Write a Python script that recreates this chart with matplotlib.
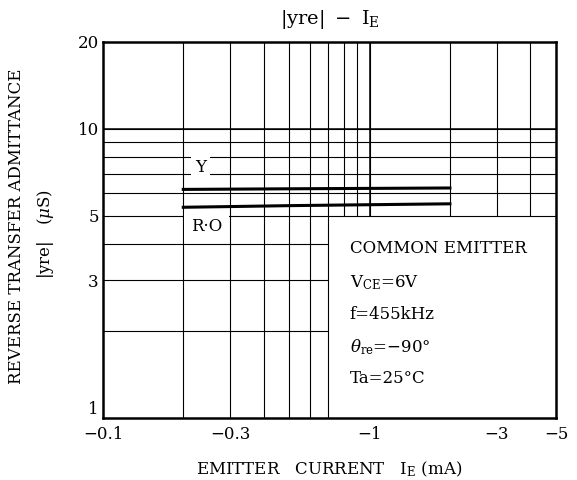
import numpy as np
import matplotlib
matplotlib.use('Agg')
import matplotlib.pyplot as plt

plt.rcParams['font.family'] = 'DejaVu Serif'
plt.rcParams['mathtext.fontset'] = 'dejavuserif'

# data (|IE| in mA, |yre| in uS)
ie_y = [0.2, 0.5, 1.0, 2.0]
yre_y = [6.18, 6.21, 6.23, 6.25]
ie_ro = [0.2, 0.3, 0.5, 1.0, 2.0]
yre_ro = [5.36, 5.39, 5.43, 5.47, 5.51]

x_ticks = [0.1, 0.3, 1, 3, 5]
x_labels = ['\u22120.1', '\u22120.3', '\u22121', '\u22123', '\u22125']
y_ticks = [1, 3, 5, 10, 20]
y_labels = ['1', '3', '5', '10', '20']

# grid lines of the chart paper
v_full = [0.2, 0.3, 0.4, 0.5, 0.6, 0.7]
v_upper = [0.8, 0.9, 1, 2, 3, 4]
h_full = [5, 6, 7, 8, 9, 10]
h_left = [2, 3, 4]

fig = plt.figure(figsize=(5.77, 4.8), dpi=100)
ax = fig.add_axes([103/577, 1-418/480, 453/577, 376/480])
ax.set_xscale('log')
ax.set_yscale('log')
ax.set_xlim(0.1, 5)
ax.set_ylim(1, 20)

gl = dict(color='black', lw=0.8, zorder=1)
ax.vlines(v_full, 1, 20, **gl)
ax.vlines(v_upper, 5, 20, **gl)
ax.hlines(h_full, 0.1, 5, **gl)
ax.hlines(h_left, 0.1, 0.7, **gl)
ax.vlines([1], 5, 20, color='black', lw=1.1, zorder=1)
ax.hlines([10], 0.1, 5, color='black', lw=1.1, zorder=1)

ax.plot(ie_y, yre_y, color='black', lw=2.2, zorder=4)
ax.plot(ie_ro, yre_ro, color='black', lw=2.2, zorder=4)

ax.text(0.232, 7.35, 'Y', fontsize=12, ha='center', va='center', zorder=3,
        bbox=dict(fc='white', ec='none', pad=3))
ax.text(0.245, 4.6, 'R\u00b7O', fontsize=12, ha='center', va='center', zorder=3,
        bbox=dict(fc='white', ec='none', pad=5))

for sp in ax.spines.values():
    sp.set_linewidth(1.8)

ax.set_xticks(x_ticks)
ax.set_xticklabels(x_labels, fontsize=12)
ax.set_yticks(y_ticks)
ax.set_yticklabels(y_labels, fontsize=12)
ax.minorticks_off()
ax.tick_params(length=0, pad=3)
ax.tick_params(axis='x', pad=6)
ax.get_yticklabels()[0].set_va('bottom')

ax.set_title(r'$|\mathrm{yre}|\ -\ \mathrm{I_E}$', fontsize=14, pad=13)
ax.set_xlabel(r'EMITTER   CURRENT   $\mathrm{I_E}$ (mA)', fontsize=12, labelpad=12)
fig.text(17/577, 1-226/480, 'REVERSE TRANSFER ADMITTANCE', rotation=90,
         fontsize=12, ha='center', va='center')
fig.text(45/577, 1-234/480, r'$|\mathrm{yre}|$   ($\mu$S)', rotation=90,
         fontsize=12, ha='center', va='center')

cond = ['COMMON EMITTER', r'V$_\mathrm{CE}$=6V', 'f=455kHz',
        r'$\theta_\mathrm{re}$' + '=\u221290\u00b0', 'Ta=25\u00b0C']
cond_y = [0.452, 0.359, 0.274, 0.189, 0.106]
for s, yy in zip(cond, cond_y):
    ax.text(0.545, yy, s, transform=ax.transAxes, fontsize=12, va='center', ha='left')

fig.savefig('out.png', dpi=100)
